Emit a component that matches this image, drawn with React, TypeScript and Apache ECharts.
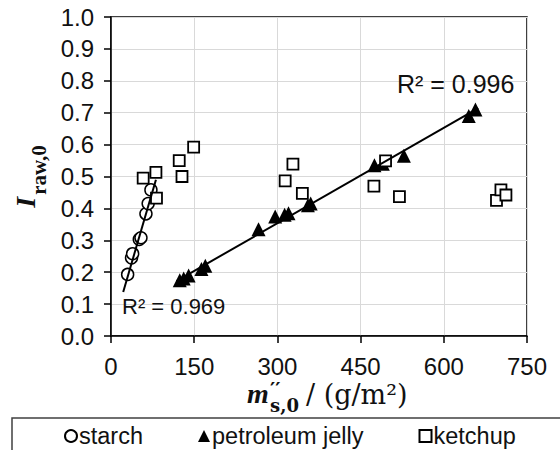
import React, { useEffect, useRef } from "react";
import * as echarts from "echarts";

const starchX = [30, 37, 39, 51, 54, 63, 67, 72];
const starchY = [0.193, 0.245, 0.258, 0.303, 0.308, 0.383, 0.415, 0.458];

const jellyX = [124, 131, 140, 163, 170, 266, 296, 313, 320, 355, 360, 475, 490, 528, 645, 657];
const jellyY = [0.175, 0.18, 0.19, 0.21, 0.22, 0.335, 0.375, 0.38, 0.385, 0.41, 0.415, 0.535, 0.54, 0.565, 0.69, 0.71];

const ketchupX = [58, 81, 82, 123, 128, 149, 314, 328, 345, 474, 495, 520, 695, 703, 712];
const ketchupY = [0.495, 0.513, 0.432, 0.55, 0.5, 0.592, 0.486, 0.539, 0.447, 0.47, 0.549, 0.437, 0.425, 0.458, 0.442];

const starchFitX = [22, 81];
const starchFitY = [0.138, 0.49];
const jellyFitX = [118, 662];
const jellyFitY = [0.172, 0.714];

const seriesNames = ["starch", "petroleum jelly", "ketchup"];
const r2Labels = ["R² = 0.969", "R² = 0.996"];

const zip = (xs: number[], ys: number[]) => xs.map((x, i) => [x, ys[i]]);

export default function App() {
  const ref = useRef<HTMLDivElement>(null);
  useEffect(() => {
    document.body.style.margin = "0";
    if (!ref.current) return;
    const chart = echarts.init(ref.current, null, { renderer: "svg" });
    const sans = "'Liberation Sans', Arial, sans-serif";
    const serif = "'Liberation Serif', 'Times New Roman', serif";
    const dserif = "'DejaVu Serif', serif";
    const txt = (text: string, x: number, y: number, font: string) => ({
      type: "text",
      x,
      y,
      z: 100,
      style: {
        text,
        font,
        fill: "#111",
        textAlign: "left",
        align: "left",
        textVerticalAlign: "middle",
        verticalAlign: "middle",
      },
    });
    chart.setOption({
      animation: false,
      grid: {
        left: 111,
        right: 33,
        top: 17,
        bottom: 114,
        show: true,
        borderColor: "#000",
        borderWidth: 1.5,
        containLabel: false,
        outerBoundsMode: "none",
      },
      xAxis: {
        type: "value",
        min: 0,
        max: 750,
        interval: 150,
        axisLine: { show: true, onZero: false, lineStyle: { color: "#000", width: 1.5 } },
        axisTick: { show: true, length: 7, lineStyle: { color: "#000", width: 1.5 } },
        axisLabel: { fontSize: 24, fontFamily: sans, color: "#111", margin: 18 },
        splitLine: { show: true, lineStyle: { color: "#d9d9d9", width: 1 } },
      },
      yAxis: {
        type: "value",
        min: 0,
        max: 1,
        interval: 0.1,
        name: "{i|I}{s|raw,0}",
        nameLocation: "middle",
        nameRotate: 90,
        nameGap: 60,
        nameTextStyle: {
          color: "#111",
          rich: {
            i: { fontFamily: serif, fontStyle: "italic", fontWeight: "bold", fontSize: 28, lineHeight: 28, color: "#111" },
            s: { fontFamily: serif, fontWeight: "bold", fontSize: 21, lineHeight: 21, padding: [28, 0, 0, 2], color: "#111" },
          },
        },
        axisLine: { show: true, onZero: false, lineStyle: { color: "#000", width: 1.5 } },
        axisTick: { show: true, length: 7, lineStyle: { color: "#000", width: 1.5 } },
        axisLabel: {
          fontSize: 24,
          fontFamily: sans,
          color: "#111",
          margin: 17,
          formatter: (v: number) => v.toFixed(1),
        },
        splitLine: { show: true, lineStyle: { color: "#d9d9d9", width: 1 } },
      },
      legend: {
        data: seriesNames,
        orient: "horizontal",
        left: 59,
        top: 419,
        itemWidth: 12,
        itemHeight: 12,
        itemGap: 55,
        textStyle: { fontSize: 23.5, fontFamily: sans, color: "#111", lineHeight: 24, padding: [0, 0, 0, -3] },
      },
      series: [
        {
          name: seriesNames[0],
          type: "scatter",
          symbol: "circle",
          symbolSize: 12,
          z: 2,
          itemStyle: { color: "#fff", borderColor: "#000", borderWidth: 1.5, opacity: 1 },
          data: zip(starchX, starchY),
        },
        {
          name: seriesNames[1],
          type: "scatter",
          symbol: "triangle",
          symbolSize: 14,
          z: 2,
          itemStyle: { color: "#000", borderColor: "#000", borderWidth: 0, opacity: 1 },
          data: zip(jellyX, jellyY),
        },
        {
          name: seriesNames[2],
          type: "scatter",
          symbol: "rect",
          symbolSize: 11,
          z: 2,
          itemStyle: { color: "#fff", borderColor: "#000", borderWidth: 1.8, opacity: 1 },
          data: zip(ketchupX, ketchupY),
        },
        {
          name: "starch fit",
          type: "line",
          symbol: "none",
          z: 5,
          lineStyle: { color: "#000", width: 2 },
          data: zip(starchFitX, starchFitY),
        },
        {
          name: "jelly fit",
          type: "line",
          symbol: "none",
          z: 5,
          lineStyle: { color: "#000", width: 2 },
          data: zip(jellyFitX, jellyFitY),
        },
      ],
      graphic: [
        txt(r2Labels[1], 397, 83.5, `25px ${sans}`),
        txt(r2Labels[0], 122, 306, `22px ${sans}`),
        // x-axis title
        txt("m", 247, 393.5, `italic bold 28px ${serif}`),
        txt("′′", 270, 390, `bold 20px ${dserif}`),
        txt("s,0", 270, 405, `bold 18px ${dserif}`),
        txt("/ (g/m²)", 306, 394, `27px ${dserif}`),
        {
          type: "rect",
          z: 100,
          shape: { x: 12, y: 418, width: 600, height: 60 },
          style: { fill: "none", stroke: "#404040", lineWidth: 1.5 },
        },
      ],
    });
    return () => chart.dispose();
  }, []);
  return <div ref={ref} style={{ width: 560, height: 450 }} />;
}
